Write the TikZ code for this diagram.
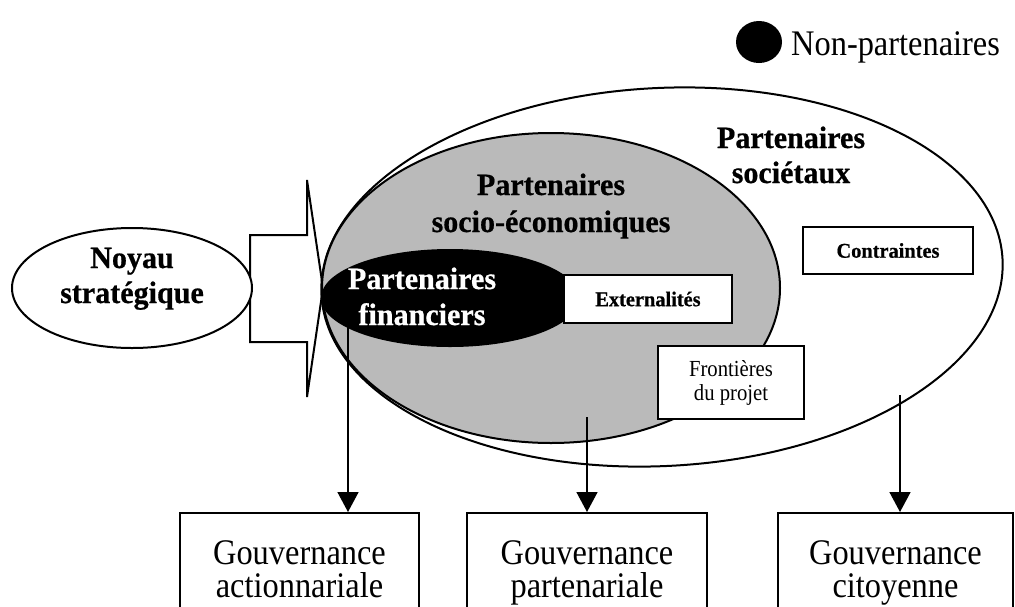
\documentclass[tikz,border=0pt]{standalone}
\usepackage{fontspec}
\setmainfont{Liberation Serif}[FakeStretch=0.9]
\newfontfamily\condb{Liberation Serif}[FakeStretch=0.97,FakeBold=0.6]
\usetikzlibrary{arrows.meta}
\begin{document}
\begin{tikzpicture}[x=1pt,y=-1pt,
  ell/.style={draw=black,line width=2pt},
  lbl/.style={align=center,inner sep=0pt,anchor=base,font=\condb\bfseries\fontsize{31}{36}\selectfont},
  boxb/.style={draw=black,line width=2pt,fill=white,inner sep=0pt,align=center,font=\condb\bfseries\fontsize{21}{24}\selectfont},
  boxr/.style={draw=black,line width=2pt,fill=white,inner sep=0pt,align=center,font=\fontsize{23}{24}\selectfont},
  govbox/.style={draw=black,line width=2pt,fill=white,align=center,inner sep=0pt,font=\fontsize{36}{33}\selectfont,text height=60pt,text depth=10pt,minimum height=118pt},
  arr/.style={line width=1.6pt,-{Triangle[length=20pt,width=21pt]}}]
\useasboundingbox (0,0) rectangle (1015,606);
\fill[white] (0,0) rectangle (1015,606);
% legend
\fill[black] (759,42) ellipse [x radius=23pt, y radius=21pt];
\node[anchor=base west,inner sep=0pt,font=\fontsize{36}{36}\selectfont] (legend) at (791,55) {Non-partenaires};
% block arrow
\draw[line width=2pt,fill=white,line join=miter] (250,235) -- (307,235) -- (307,180) -- (323,288) -- (307,397) -- (307,342) -- (250,342) -- cycle;
% noyau
\draw[ell,fill=white] (132,288) ellipse [x radius=120pt, y radius=60pt];
\node[lbl,font=\condb\bfseries\fontsize{31}{35}\selectfont] (noyau) at (132,303) {Noyau\\stratégique};
% outer ellipse
\draw[ell,fill=white,rotate around={3:(662,277)}] (662,277) ellipse [x radius=341pt, y radius=189pt];
% grey ellipse
\draw[ell,fill=black!27] (551,288) ellipse [x radius=229pt, y radius=155pt];
% black ellipse
\draw[ell,fill=black] (450,298) ellipse [x radius=128pt, y radius=48pt];
% labels
\node[lbl,font=\condb\bfseries\fontsize{31}{35}\selectfont] (soc) at (791,183) {Partenaires\\sociétaux};
\node[lbl,font=\condb\bfseries\fontsize{31}{37}\selectfont] (socio) at (551,232) {Partenaires\\socio-économiques};
\node[lbl,text=white,font=\condb\bfseries\fontsize{31}{36}\selectfont] (fin) at (422,325) {Partenaires\\financiers};
% small boxes
\node[boxb,minimum width=168pt,minimum height=48pt] (ext) at (648,299) {Externalités};
\node[boxb,minimum width=170pt,minimum height=47pt] (con) at (888,250.5) {Contraintes};
\node[boxr,minimum width=146pt,minimum height=73pt] (fro) at (731,382.5) {Frontières\\du projet};
% governance boxes
\node[govbox,minimum width=239pt] (g1) at (299.5,572) {Gouvernance\\actionnariale};
\node[govbox,minimum width=240pt] (g2) at (587,572) {Gouvernance\\partenariale};
\node[govbox,minimum width=235pt] (g3) at (895.5,572) {Gouvernance\\citoyenne};
% connectors
\coordinate (s1) at (348,327);
\coordinate (s2) at (587,417);
\coordinate (s3) at (900,395);
\draw[arr] (s1) -- (s1 |- g1.north);
\draw[arr] (s2) -- (s2 |- g2.north);
\draw[arr] (s3) -- (s3 |- g3.north);
\end{tikzpicture}
\end{document}
